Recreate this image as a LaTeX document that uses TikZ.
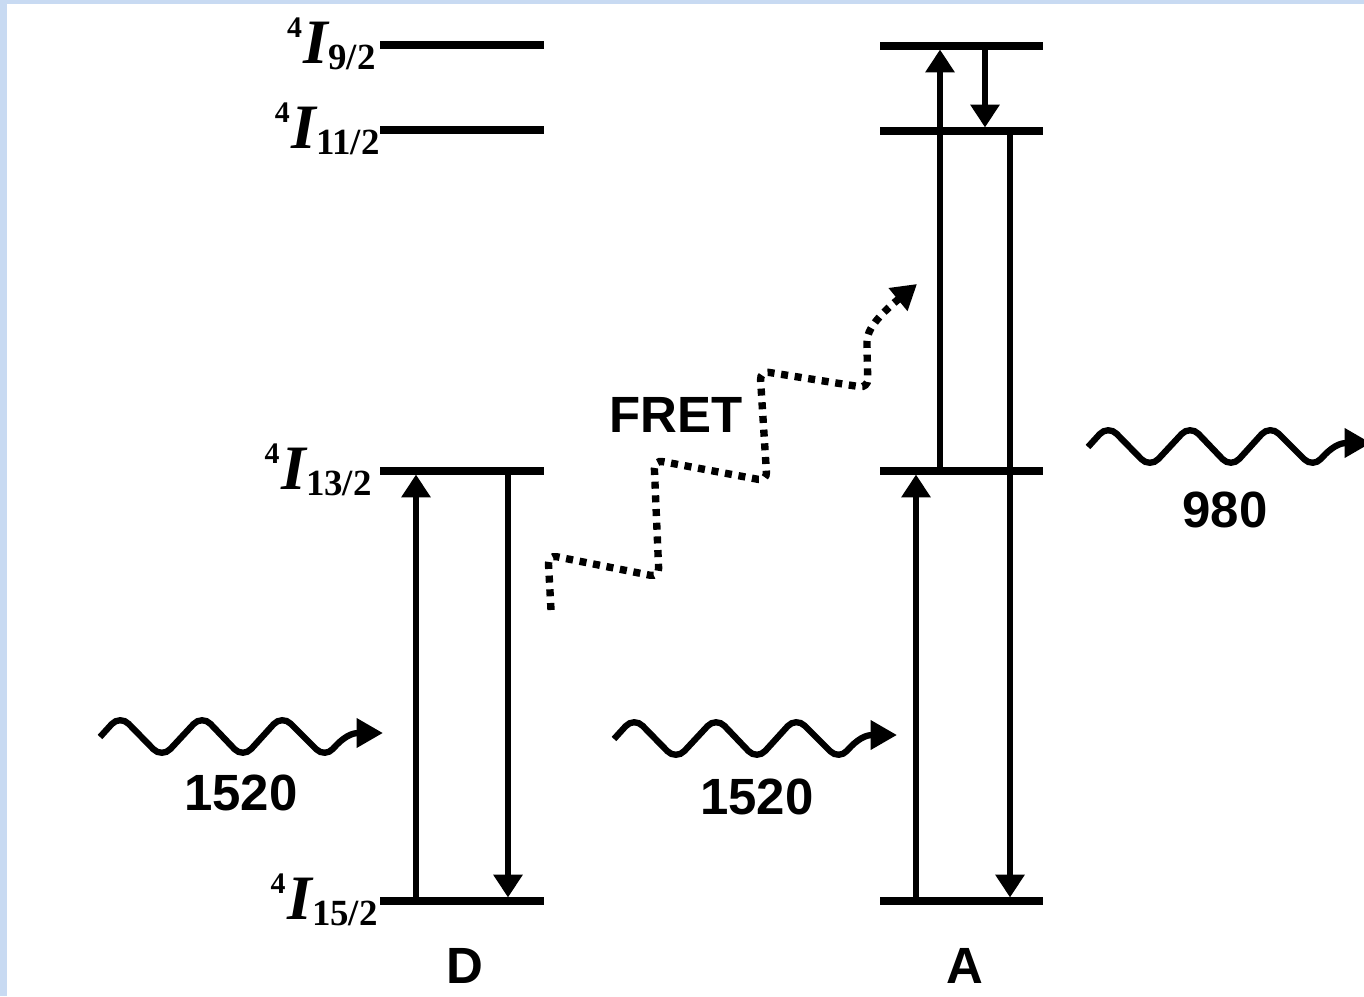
\documentclass[tikz,border=0pt]{standalone}
\usepackage{fontspec}
\setmainfont{Liberation Serif}
\setsansfont{Liberation Sans}
\usetikzlibrary{arrows.meta, positioning, calc}

\definecolor{framebg}{RGB}{200,218,242}

% term symbol  ^4 I_{J}
\newcommand{\termsym}[1]{%
  \raisebox{15pt}{\fontsize{17}{17}\selectfont 4}\kern1pt%
  \textit{I}\kern-1pt%
  \raisebox{-3.4pt}{\fontsize{21}{21}\selectfont #1}}

\tikzset{
  levelline/.style={line width=4pt},
  termlbl/.style={anchor=east, inner sep=0pt, font=\bfseries\fontsize{36}{36}\selectfont},
  trans/.style={line width=3.4pt, -{Triangle[length=13pt, width=16pt]}, shorten >=2pt},
  photon/.style={line width=3.6pt, rounded corners=7pt, -{Triangle[length=15pt, width=16pt]}},
  fretpath/.style={line width=4.2pt, dash pattern=on 4pt off 3.8pt, rounded corners=5pt,
    -{Triangle[length=14pt, width=16pt]}},
  wavelbl/.style={font=\sffamily\bfseries\fontsize{29}{29}\selectfont},
  wave/.pic={\draw[photon] (0,0) -- (20,-22) -- (62,21) -- (102,-22) -- (143,21)
    -- (182,-22) -- (225,21) .. controls (238,6) and (248,-4) .. (283,-4);}
}

\begin{document}
\begin{tikzpicture}[x=0.02cm, y=-0.02cm]
  \useasboundingbox (0,0) rectangle (1364,996);
  \clip (0,0) rectangle (1364,996);
  \fill[framebg] (0,0) rectangle (1364,996);
  \fill[white] (7,4) rectangle (1364,996);

  % Donor (D)
  \node[termlbl] (d9) at (376,44) {\termsym{9/2}};
  \node[termlbl] (d11) at (380,129) {\termsym{11/2}};
  \node[termlbl] (d13) at (372,470) {\termsym{13/2}};
  \node[termlbl] (d15) at (378,900) {\termsym{15/2}};
  \coordinate (D9) at (380,45);
  \coordinate (D11) at (380,130);
  \coordinate (D13) at (380,471);
  \coordinate (D15) at (380,901);
  \foreach \lv in {D9,D11,D13,D15}
    \draw[levelline] (\lv) -- ++(164,0);

  \draw[trans] ($(D15)+(36,0)$) -- ($(D13)+(36,0)$);
  \draw[trans] ($(D13)+(128,0)$) -- ($(D15)+(128,0)$);

  % Acceptor (A)
  \coordinate (A9) at (880,46);
  \coordinate (A11) at (880,131);
  \coordinate (A13) at (880,471);
  \coordinate (A15) at (880,901);
  \foreach \lv in {A9,A11,A13,A15}
    \draw[levelline] (\lv) -- ++(163,0);

  \draw[trans] ($(A15)+(36,0)$) -- ($(A13)+(36,0)$);
  \draw[trans] ($(A13)+(60,0)$) -- ($(A9)+(60,0)$);
  \draw[trans] ($(A9)+(105,0)$) -- ($(A11)+(105,0)$);
  \draw[trans] ($(A11)+(130,0)$) -- ($(A15)+(130,0)$);

  % photons
  \pic at (100,737) {wave};
  \pic at (614,739) {wave};
  \pic at (1088,447) {wave};
  \node[wavelbl] (p1) at (241,793) {1520};
  \node[wavelbl] (p2) at (757,797) {1520};
  \node[wavelbl] (p3) at (1225,510) {980};

  % energy transfer
  \draw[fretpath] (551,610) -- (548,555) -- (659,577) -- (654,460) -- (767,481)
    -- (760,371) -- (868,388) -- (867,350) .. controls (867,330) and (878,316) .. (917,284);
  \node[wavelbl] (fret) at (676,415) {FRET};

  \node[wavelbl] (donor) at (465,966) {D};
  \node[wavelbl] (acceptor) at (965,966) {A};
\end{tikzpicture}
\end{document}
